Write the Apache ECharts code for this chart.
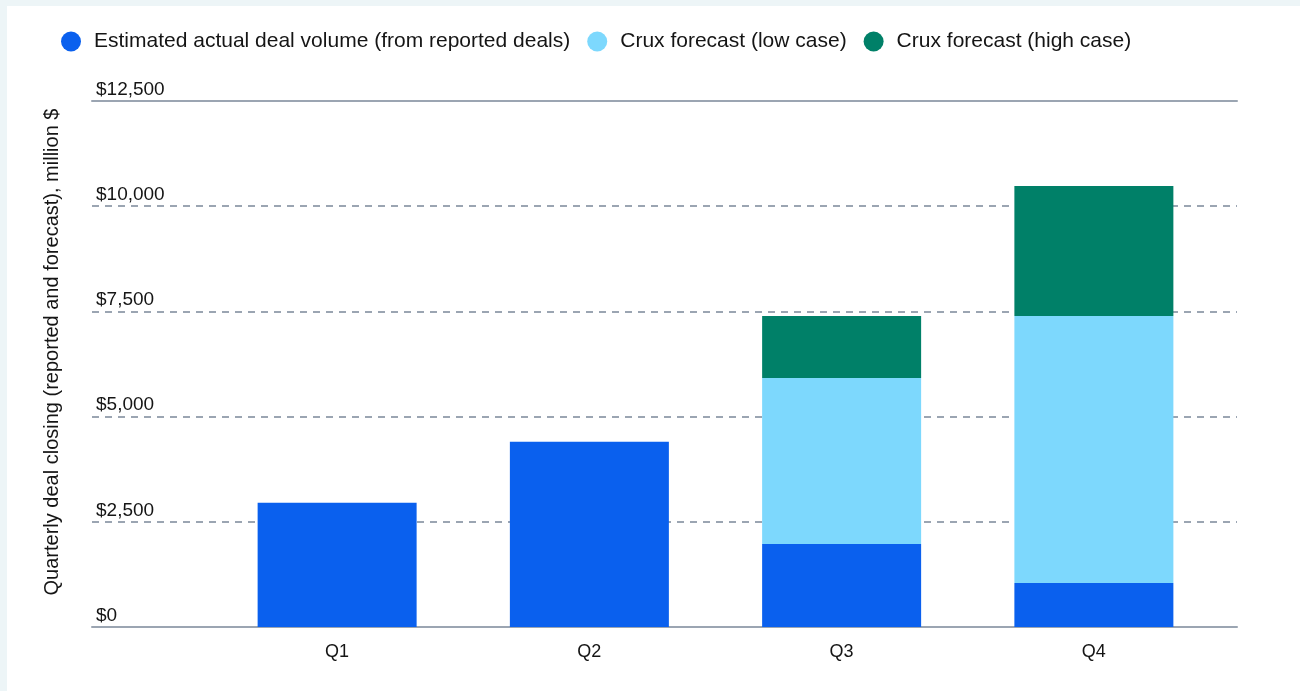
<!DOCTYPE html>
<html>
<head>
<meta charset="utf-8">
<script src="https://cdn.jsdelivr.net/npm/echarts@6/dist/echarts.min.js"></script>
<style>
html,body{margin:0;padding:0;background:#edf5f7;}
#bg{position:absolute;left:7px;top:6px;width:1293px;height:685px;background:#fff;}
#c{position:absolute;left:0;top:0;width:1300px;height:691px;}
</style>
</head>
<body>
<div id="bg"></div>
<div id="c"></div>
<script>
var categories = ['Q1', 'Q2', 'Q3', 'Q4'];
var actualVolume = [2950, 4400, 1970, 1045];
var lowCase = [null, null, 3945, 6345];
var highCase = [null, null, 1475, 3090];
var yTicks = [0, 2500, 5000, 7500, 10000, 12500];
var seriesNames = ['Estimated actual deal volume (from reported deals)', 'Crux forecast (low case)', 'Crux forecast (high case)'];

var FONT = 'Liberation Sans';
var lineColor = '#9ba5b2';
var txt = '#151515';

var chart = echarts.init(document.getElementById('c'), null, {renderer: 'canvas'});
chart.setOption({
  backgroundColor: 'transparent',
  animation: false,
  textStyle: {fontFamily: FONT, color: txt},
  legend: {
    left: 56, top: 26,
    icon: 'circle', itemWidth: 20, itemHeight: 20, itemGap: 17,
    textStyle: {fontFamily: FONT, fontSize: 21, color: txt, padding: [0, 0, 0, 8]},
    data: seriesNames
  },
  grid: [
    {left: 92, right: 63, top: 101, bottom: 64},
    {left: 211, right: 80, top: 101, bottom: 64}
  ],
  xAxis: [
    {gridIndex: 0, type: 'category', data: [''], position: 'bottom',
     axisLine: {show: true, lineStyle: {color: lineColor, width: 2}},
     axisTick: {show: false}, axisLabel: {show: false}, splitLine: {show: false}},
    {gridIndex: 0, type: 'category', data: [''], position: 'top',
     axisLine: {show: true, lineStyle: {color: lineColor, width: 2}},
     axisTick: {show: false}, axisLabel: {show: false}, splitLine: {show: false}},
    {gridIndex: 1, type: 'category', data: categories,
     axisLine: {show: false}, axisTick: {show: false},
     axisLabel: {fontFamily: FONT, fontSize: 18, color: txt, margin: 16}}
  ],
  yAxis: [
    {gridIndex: 0, type: 'value', min: yTicks[0], max: yTicks[yTicks.length - 1], interval: 2500,
     name: 'Quarterly deal closing (reported and forecast), million $',
     nameLocation: 'middle', nameGap: 30,
     nameTextStyle: {fontFamily: FONT, fontSize: 20, color: txt, padding: [0, 0, 0, 24]},
     axisLine: {show: false}, axisTick: {show: false},
     axisLabel: {inside: true, margin: 4, verticalAlign: 'bottom', padding: [0, 0, 2, 0],
                 fontFamily: FONT, fontSize: 19, color: txt,
                 formatter: function (v) { return '$' + v.toLocaleString('en-US'); }},
     splitLine: {show: true, showMinLine: false, showMaxLine: false,
                 lineStyle: {color: lineColor, width: 2, type: [7, 6]}}},
    {gridIndex: 1, type: 'value', min: yTicks[0], max: yTicks[yTicks.length - 1], interval: 2500,
     show: false, splitLine: {show: false}}
  ],
  series: [
    {name: seriesNames[0], type: 'bar', stack: 'total', xAxisIndex: 2, yAxisIndex: 1,
     barWidth: 159, data: actualVolume, itemStyle: {color: '#0a60ee'}},
    {name: seriesNames[1], type: 'bar', stack: 'total', xAxisIndex: 2, yAxisIndex: 1,
     barWidth: 159, data: lowCase, itemStyle: {color: '#7dd8fd'}},
    {name: seriesNames[2], type: 'bar', stack: 'total', xAxisIndex: 2, yAxisIndex: 1,
     barWidth: 159, data: highCase, itemStyle: {color: '#008068'}}
  ]
});
</script>
</body>
</html>
